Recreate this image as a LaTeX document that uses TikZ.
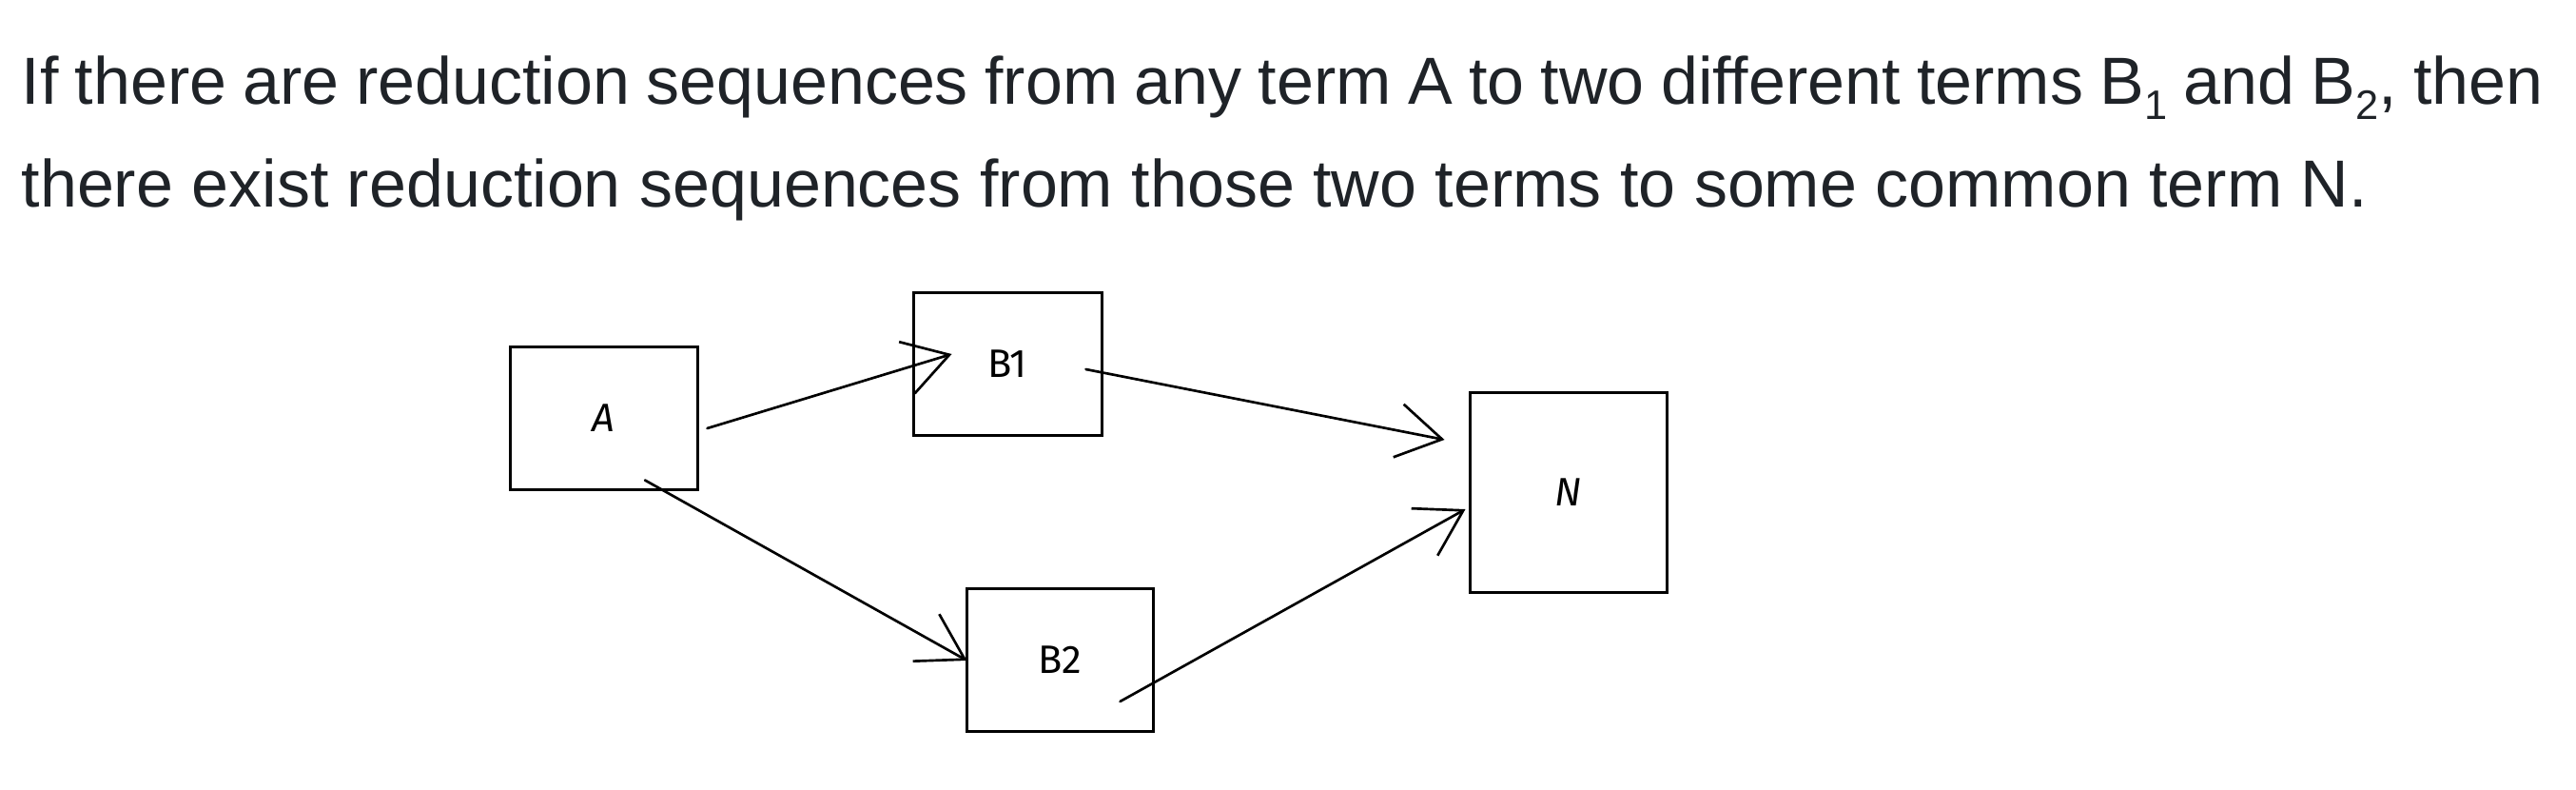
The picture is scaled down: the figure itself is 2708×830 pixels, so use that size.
\documentclass[tikz,border=0pt]{standalone}
\usepackage{fontspec}
\setmainfont{Liberation Sans}
\newfontfamily\handfont{Fira Sans}
\usetikzlibrary{arrows.meta}
\definecolor{txt}{HTML}{1F2328}
\tikzset{
  para/.style={anchor=base west, inner sep=0pt, text=txt, font=\fontsize{21}{25}\selectfont},
  termbox/.style={draw=black, line width=0.9pt, inner sep=0pt, font=\handfont\fontsize{12.5}{14}\selectfont},
  redarrow/.style={draw=black, line width=0.8pt, line cap=round, -{Straight Barb[length=14pt,width=17pt,line width=0.8pt]}}
}
\newcommand{\nsub}[1]{\raisebox{-0.22em}{\fontsize{13}{14}\selectfont #1}}
\begin{document}
\begin{tikzpicture}[x=0.3pt,y=-0.3pt]
\useasboundingbox (0,0) rectangle (2708,830);
\node[para] (l1) at (22,110) {\spaceskip=5.2pt plus 0.5pt If there are reduction sequences from any term A to two different terms B\nsub{1} and B\nsub{2}, then};
\node[para] (l2) at (22,218) {there exist reduction sequences from those two terms to some common term N.};
\node[termbox, minimum width={197*0.3pt}, minimum height={149*0.3pt}] (A) at (634.5,439.5) {\itshape A};
\node[termbox, minimum width={198*0.3pt}, minimum height={149*0.3pt}] (B1) at (1059,382.5) {B1};
\node[termbox, minimum width={196*0.3pt}, minimum height={150*0.3pt}] (B2) at (1114,693) {B2};
\node[termbox, minimum width={207*0.3pt}, minimum height={210*0.3pt}] (N) at (1648.5,517) {\itshape N};
\draw[redarrow] ([shift={(9,10.5)}]A.east) -- ([shift={(42,-10.5)}]B1.west);
\draw[redarrow] ([shift={(-18,5.5)}]B1.east) -- ([shift={(-25,-55)}]N.west);
\draw[redarrow] ([shift={(43.5,-11)}]A.south) -- ([shift={(2,1)}]B2.west);
\draw[redarrow] ([shift={(-36,44)}]B2.east) -- ([shift={(-3,18)}]N.west);
\end{tikzpicture}
\end{document}
